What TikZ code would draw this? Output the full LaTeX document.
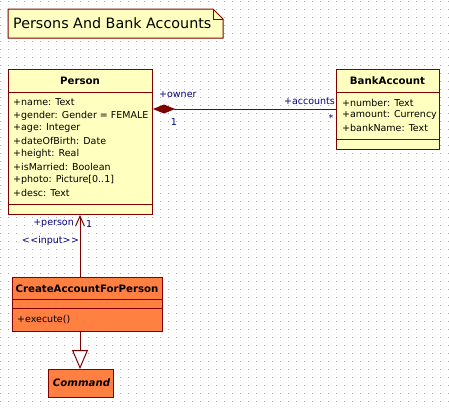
\documentclass[tikz,border=0pt]{standalone}
\usepackage{fontspec}
\setmainfont{DejaVu Sans}
\usetikzlibrary{arrows.meta}
\definecolor{maroon}{RGB}{128,0,0}
\definecolor{classyel}{RGB}{255,255,192}
\definecolor{classorg}{RGB}{255,128,64}
\definecolor{navy}{RGB}{0,0,128}
\definecolor{gridc}{RGB}{170,170,170}
\tikzset{
  umlbox/.style={draw=maroon, line width=1pt, fill=classyel, inner sep=0pt, anchor=north west},
  orgbox/.style={umlbox, fill=classorg},
  divider/.style={draw=maroon, line width=1pt},
  conn/.style={draw=maroon, line width=1pt},
  attr/.style={anchor=west, inner sep=0pt, font=\fontsize{9.5}{11}\selectfont, text=black},
  ctitle/.style={inner sep=0pt, font=\fontsize{10.2}{12}\selectfont\bfseries, text=black},
  lbl/.style={inner sep=0pt, font=\fontsize{9.5}{11}\selectfont, text=navy},
}
\begin{document}
\begin{tikzpicture}[x=1pt,y=-1pt]
\useasboundingbox (0,0) rectangle (449,408);
\fill[white] (0,0) rectangle (449,408);
\foreach \x in {0,8,...,448}{\foreach \y in {1,9,...,407}{\fill[gridc] (\x,\y) rectangle ++(1,1);}}
% note
\filldraw[draw=maroon, fill=classyel, line width=1pt] (8,9) -- (213,9) -- (223,19) -- (223,38) -- (8,38) -- cycle;
\draw[maroon, line width=0.8pt] (213,9) -- (213,19) -- (223,19);
\node[inner sep=0pt, anchor=west, font=\fontsize{14.3}{16}\selectfont] (title) at (13,23.5) {Persons And Bank Accounts};
% Person
\node[umlbox, minimum width=144pt, minimum height=145pt] (person) at (8,69) {};
\draw[divider] (8,92) -- (152,92);
\draw[divider] (8,204) -- (152,204);
\node[ctitle] (ptitle) at (80,80.5) {Person};
\node[attr] (a1) at (13,102.5) {+name: Text};
\node[attr] (a2) at (13,115.4) {+gender: Gender = FEMALE};
\node[attr] (a3) at (13,128.3) {+age: Integer};
\node[attr] (a4) at (13,141.2) {+dateOfBirth: Date};
\node[attr] (a5) at (13,154.1) {+height: Real};
\node[attr] (a6) at (13,167.0) {+isMarried: Boolean};
\node[attr] (a7) at (13,179.9) {+photo: Picture[0..1]};
\node[attr] (a8) at (13,192.8) {+desc: Text};
% BankAccount
\node[umlbox, minimum width=103pt, minimum height=80pt] (bank) at (336,69) {};
\draw[divider] (336,92) -- (439,92);
\draw[divider] (336,139) -- (439,139);
\node[ctitle] (btitle) at (387.5,80.5) {BankAccount};
\node[attr] (b1) at (342,102.5) {+number: Text};
\node[attr] (b2) at (342,115.4) {+amount: Currency};
\node[attr] (b3) at (342,128.3) {+bankName: Text};
% CreateAccountForPerson
\node[orgbox, minimum width=150pt, minimum height=54pt] (create) at (12,277) {};
\draw[divider] (12,299) -- (162,299);
\draw[divider] (12,308) -- (162,308);
\node[ctitle] (ctitle) at (87,288.5) {CreateAccountForPerson};
\node[attr] (c1) at (17,319.5) {+execute()};
% Command
\node[orgbox, minimum width=65pt, minimum height=28pt] (command) at (48,369) {};
\node[ctitle, font=\fontsize{10.2}{12}\selectfont\bfseries\itshape] (cmdtitle) at (81.5,383) {Command};
% association
\coordinate (pend) at ([yshift=-40pt]person.north east);
\coordinate (bend) at ([yshift=-40pt]bank.north west);
\draw[conn, -{Diamond[length=22pt,width=9pt,fill=maroon]}] (bend) -- (pend);
\node[lbl, anchor=west] (owner) at (159,95) {+owner};
\node[lbl] (one1) at (174,122) {1};
\node[lbl, anchor=east] (accounts) at (335,101) {+accounts};
\node[lbl] (star) at (331,118) {*};
% dependency input
\coordinate (ptop) at (create.north -| 80,0);
\coordinate (pbot) at (person.south -| 80,0);
\draw[conn, -{Straight Barb[length=10pt,width=9pt]}] (ptop) -- (pbot);
\node[lbl, anchor=east] (personlbl) at (74,224) {+person};
\node[lbl, anchor=west] (one2) at (86,224) {1};
\node[lbl] (input) at (50.5,241) {<\kern0.5pt<input>\kern0.5pt>};
% generalization
\coordinate (cbot) at (create.south -| 80,0);
\coordinate (ctop) at (command.north -| 80,0);
\draw[conn, -{Triangle[open,length=19pt,width=16pt,fill=white]}] (cbot) -- (ctop);
\end{tikzpicture}
\end{document}
